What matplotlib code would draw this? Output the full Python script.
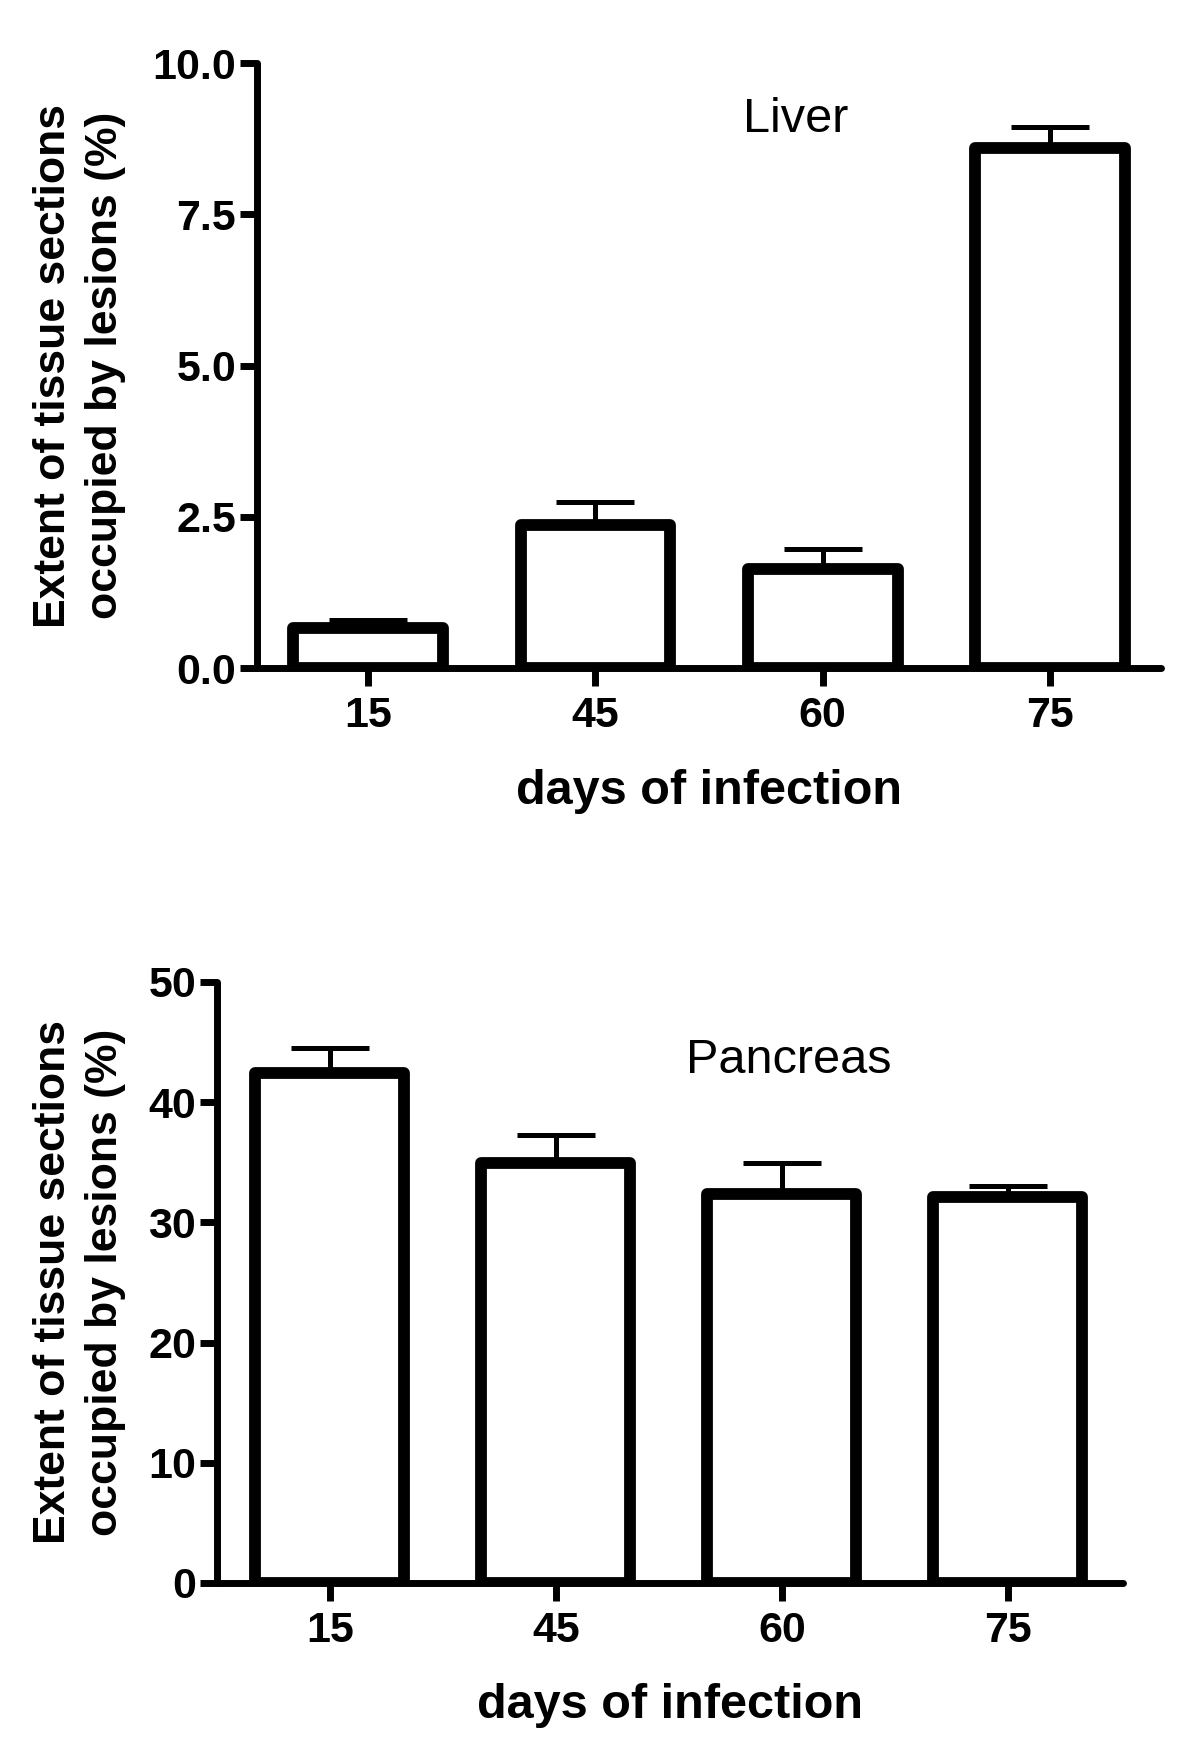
import matplotlib
matplotlib.use('Agg')
import matplotlib.pyplot as plt

# data
days = ['15', '45', '60', '75']
liver_mean = [0.67, 2.36, 1.64, 8.60]
liver_sem = [0.12, 0.39, 0.33, 0.34]
pancreas_mean = [42.4, 34.9, 32.4, 32.1]
pancreas_sem = [2.1, 2.4, 2.5, 0.9]

ylabel = 'Extent of tissue sections\noccupied by lesions (%)'
xlabel = 'days of infection'

plt.rcParams['font.family'] = ['Liberation Sans', 'DejaVu Sans']

fig = plt.figure(figsize=(12, 17.47), dpi=100)


def panel(rect, means, errs, ylim, yticks, fmt, xlim, title, title_xy):
    ax = fig.add_axes(rect)
    x = list(range(len(days)))
    bars = ax.bar(x, means, width=0.66, color='white', edgecolor='black',
                  linewidth=8.5, zorder=2)
    for b in bars:
        b.set_joinstyle('round')
    ax.errorbar(x, means, yerr=[[0] * len(errs), errs], fmt='none',
                ecolor='black', elinewidth=3.6, capsize=28, capthick=3.6,
                zorder=1)
    ax.set_xlim(*xlim)
    ax.set_ylim(*ylim)
    ax.set_xticks(x)
    ax.set_xticklabels(days)
    ax.set_yticks(yticks)
    ax.set_yticklabels([fmt.format(v) for v in yticks])
    for s in ['top', 'right']:
        ax.spines[s].set_visible(False)
    for s in ['left', 'bottom']:
        ax.spines[s].set_linewidth(5)
        ax.spines[s].set_capstyle('round')
    ax.spines['left'].set_bounds(ylim[0], ylim[1])
    ax.tick_params(axis='y', length=12, width=5, pad=3, labelsize=31)
    ax.tick_params(axis='x', length=13, width=5, pad=7, labelsize=31)
    for lab in ax.get_xticklabels() + ax.get_yticklabels():
        lab.set_fontweight('bold')
    ax.text(title_xy[0], title_xy[1], title, fontsize=35, ha='center',
            va='center')
    ax.patch.set_alpha(0)
    return ax


top_rect = [0.2142, 0.6176, 0.7533, 0.3463]
bot_rect = [0.1808, 0.0939, 0.755, 0.3440]

panel(top_rect, liver_mean, liver_sem, (0, 10), [0, 2.5, 5.0, 7.5, 10.0],
      '{:.1f}', (-0.49, 3.49), 'Liver', (1.88, 9.06))
panel(bot_rect, pancreas_mean, pancreas_sem, (0, 50), [0, 10, 20, 30, 40, 50],
      '{:.0f}', (-0.50, 3.51), 'Pancreas', (2.03, 43.5))

for rect, ly in [(top_rect, 0.547), (bot_rect, 0.0235)]:
    fig.text(0.066, rect[1] + rect[3] / 2, ylabel, rotation=90, ha='center',
             va='center', fontsize=32, fontweight='bold', linespacing=1.35,
             multialignment='center')
    fig.text(rect[0] + rect[2] / 2, ly, xlabel, ha='center', va='center',
             fontsize=35, fontweight='bold')

fig.savefig('out.png', dpi=100, facecolor='white')
